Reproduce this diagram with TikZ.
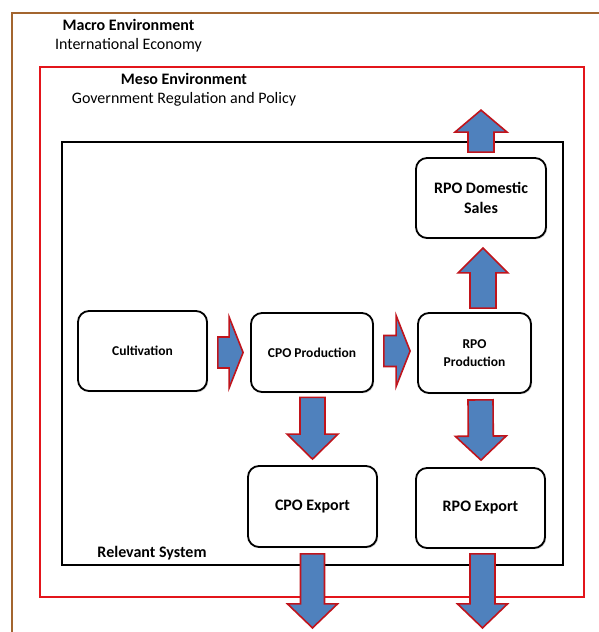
\documentclass[tikz,border=0pt]{standalone}
\usepackage{fontspec}
\setmainfont{Carlito}
\usetikzlibrary{calc,shadows}
\definecolor{framebrown}{HTML}{A3652F}
\definecolor{framered}{HTML}{E3151B}
\definecolor{arrowblue}{HTML}{4F81BD}
\definecolor{arrowred}{HTML}{C0141C}
\tikzset{
  procbox/.style={draw=black, line width=1.8pt, rounded corners=11pt, fill=white,
    align=center, inner sep=0pt,
    drop shadow={opacity=0.35, shadow xshift=1.2pt, shadow yshift=-1.2pt},
    font=\bfseries\fontsize{13.5}{17.5}\selectfont},
  bigtext/.style={font=\bfseries\fontsize{16}{20}\selectfont},
  blockarr/.style={fill=arrowblue, draw=arrowred, line width=1.6pt, line join=miter},
  labeltext/.style={align=center, inner sep=0pt, font=\fontsize{16}{19.5}\selectfont}
}
% #1 tail, #2 tip, #3 shaft half width, #4 head half width, #5 head length
\newcommand{\blockarrow}[5]{%
  \coordinate (bt) at (#1);
  \coordinate (bp) at (#2);
  \coordinate (bh) at ($(bp)!#5!(bt)$);
  \draw[blockarr] ($(bt)!#3!90:(bp)$) -- ($(bh)!#3!90:(bp)$) -- ($(bh)!#4!90:(bp)$)
    -- (bp) -- ($(bh)!#4!-90:(bp)$) -- ($(bh)!#3!-90:(bp)$) -- ($(bt)!#3!-90:(bp)$) -- cycle;
}
\begin{document}
\begin{tikzpicture}[x=1pt,y=-1pt]
\useasboundingbox (0,0) rectangle (599,632);
\fill[white] (0,0) rectangle (599,632);
% frames
\draw[framebrown, line width=1.6pt] (620,13) -- (12,13) -- (12,650);
\draw[framered, line width=1.8pt] (40,67) rectangle (584,597);
\draw[black, line width=1.8pt] (62,142) rectangle (563,565);
% environment labels
\node[labeltext] (macro) at (128.5,35.5) {\textbf{Macro Environment}\\International Economy};
\node[labeltext] (meso) at (184,90) {\textbf{Meso Environment}\\Government Regulation and Policy};
\node[bigtext, inner sep=0pt] (relsys) at (152,553) {Relevant System};
% process boxes
\node[procbox, minimum width=129pt, minimum height=80pt] (cult) at (142.5,351) {Cultivation};
\node[procbox, minimum width=122pt, minimum height=79pt] (cpo) at (312,352.5) {CPO Production};
\node[procbox, minimum width=113pt, minimum height=80pt] (rpo) at (474.5,353) {RPO\\Production};
\node[procbox, minimum width=130pt, minimum height=80pt, font=\bfseries\fontsize{16}{20}\selectfont] (dom) at (481,198) {RPO Domestic\\Sales};
\node[procbox, minimum width=129pt, minimum height=81pt, font=\bfseries\fontsize{16}{20}\selectfont] (cpoexp) at (312.5,506.5) {CPO Export};
\node[procbox, minimum width=129pt, minimum height=80pt, font=\bfseries\fontsize{16}{20}\selectfont] (rpoexp) at (480.5,508) {RPO Export};
% block arrows
\blockarrow{$(cult.east)+(10,1.5)$}{$(cpo.west)+(-7,0)$}{15.5pt}{35.5pt}{14pt}
\blockarrow{$(cpo.east)+(10,-1.5)$}{$(rpo.west)+(-7,-2)$}{15.5pt}{35.5pt}{14pt}
\blockarrow{$(rpo.north)+(8.5,-4)$}{$(dom.south)+(2,9)$}{13pt}{25pt}{25pt}
\blockarrow{$(dom.north)+(0,-5)$}{$(dom.north)+(0,-47)$}{13pt}{26pt}{22pt}
\blockarrow{$(cpo.south)+(0.5,4.5)$}{$(cpoexp.north)+(0,-6)$}{12.5pt}{25.5pt}{25pt}
\blockarrow{$(rpo.south)+(6,6)$}{$(rpoexp.north)+(0.5,-7)$}{12.5pt}{25.5pt}{24pt}
\blockarrow{$(cpoexp.south)+(0,6)$}{$(cpoexp.south)+(0,80)$}{12pt}{25pt}{24pt}
\blockarrow{$(rpoexp.south)+(2,5)$}{$(rpoexp.south)+(2,79)$}{12.5pt}{25pt}{24pt}
\end{tikzpicture}
\end{document}
